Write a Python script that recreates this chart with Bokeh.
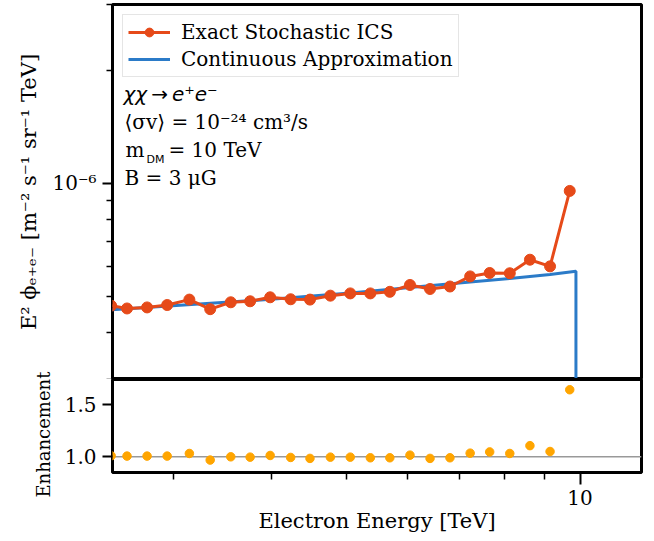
from bokeh.plotting import figure
from bokeh.layouts import column
from bokeh.models import (Range1d, FixedTicker, CustomJSTickFormatter, Label,
                          Legend, LegendItem, Span)
from bokeh.embed import file_html
from bokeh.resources import INLINE

# ---------------- data ----------------
energy = [2.49, 2.61, 2.77, 2.94, 3.14, 3.34, 3.55, 3.76, 3.99, 4.24, 4.49, 4.77,
          5.06, 5.37, 5.69, 6.04, 6.41, 6.80, 7.22, 7.65, 8.12, 8.62, 9.15, 9.70]
exact_flux = [4.72e-7, 4.64e-7, 4.67e-7, 4.74e-7, 4.90e-7, 4.62e-7, 4.82e-7, 4.85e-7,
              4.97e-7, 4.91e-7, 4.90e-7, 5.02e-7, 5.09e-7, 5.09e-7, 5.14e-7, 5.36e-7,
              5.23e-7, 5.31e-7, 5.65e-7, 5.77e-7, 5.76e-7, 6.26e-7, 6.01e-7, 9.55e-7]
enhancement = [1.01, 1.007, 1.007, 1.007, 1.032, 0.969, 1.0, 0.997, 1.013, 0.994,
               0.985, 0.997, 0.997, 0.991, 0.991, 1.016, 0.985, 0.991, 1.035, 1.047,
               1.032, 1.107, 1.051, 1.642]
cont_energy = [2.49, 4.0, 5.06, 6.04, 7.22, 8.12, 9.15, 9.88, 9.88]
cont_flux = [4.60e-7, 4.91e-7, 5.10e-7, 5.28e-7, 5.46e-7, 5.58e-7, 5.72e-7, 5.83e-7, 1e-9]

x_limits = (2.5, 12.0)
y_limits_top = (3e-7, 3e-6)
y_limits_bottom = (0.85, 1.74)

x_major = [10]
x_major_labels = ["10"]
x_minor = [3, 4, 5, 6, 7, 8, 9]
y_top_major = [1e-6]
y_top_major_labels = ["10\u207b\u2076"]
y_top_minor = [3e-7, 4e-7, 5e-7, 6e-7, 7e-7, 8e-7, 9e-7, 2e-6, 3e-6]
y_bot_major = [1.0, 1.5]
y_bot_major_labels = ["1.0", "1.5"]

x_title = "Electron Energy [TeV]"
y_title_top = "E\u00b2 \u03d5\u2091\u208a\u2091\u208b [m\u207b\u00b2 s\u207b\u00b9 sr\u207b\u00b9 TeV]"
y_title_bottom = "Enhancement"
legend_labels = ["Exact Stochastic ICS", "Continuous Approximation"]
text_lines = ["\u03c7\u03c7\u2009\u2192\u2009e\u207ae\u207b",
              "\u27e8\u03c3v\u27e9 = 10\u207b\u00b2\u2074 cm\u00b3/s",
              "m", "DM", "= 10 TeV",
              "B = 3 \u03bcG"]

RED = "#e64a19"
BLUE = "#2b7bc8"
ORANGE = "#ffa500"
SERIF = "DejaVu Serif"
FS = "20px"

FMT_CODE = """
for (let i = 0; i < vals.length; i++) {
  if (Math.abs(tick / vals[i] - 1) < 1e-6) { return labs[i]; }
}
return '';
"""


def style_axis(ax, major_out=10, minor_out=6):
    ax.axis_line_color = None
    ax.major_tick_in = 0
    ax.minor_tick_in = 0
    ax.major_tick_out = major_out
    ax.minor_tick_out = minor_out
    ax.major_tick_line_width = 2
    ax.minor_tick_line_width = 1.5
    ax.major_tick_line_color = "black"
    ax.minor_tick_line_color = "black"
    ax.major_label_text_font = SERIF
    ax.major_label_text_font_size = FS
    ax.major_label_text_color = "black"
    ax.major_label_standoff = 6
    ax.axis_label_text_font = SERIF
    ax.axis_label_text_font_size = "21px"
    ax.axis_label_text_font_style = "normal"
    ax.axis_label_text_color = "black"


# ---------------- top panel ----------------
p1 = figure(frame_width=529, frame_height=375, x_axis_type="log", y_axis_type="log",
            x_range=Range1d(*x_limits), y_range=Range1d(*y_limits_top),
            x_axis_location=None, output_backend="svg", toolbar_location=None,
            min_border_left=112, min_border_right=13, min_border_top=4,
            min_border_bottom=0)
p1.outline_line_color = "black"
p1.outline_line_width = 3
p1.xgrid.grid_line_color = None
p1.ygrid.grid_line_color = None

ya = p1.yaxis[0]
ya.ticker = FixedTicker(ticks=y_top_major, minor_ticks=y_top_minor)
ya.formatter = CustomJSTickFormatter(args=dict(vals=y_top_major, labs=y_top_major_labels),
                                     code=FMT_CODE)
style_axis(ya)
ya.axis_label = y_title_top
ya.axis_label_standoff = 8

r_cont = p1.line(cont_energy, cont_flux, line_color=BLUE, line_width=3)
r_exact_line = p1.line(energy, exact_flux, line_color=RED, line_width=3)
r_exact_pts = p1.scatter(energy, exact_flux, size=11, fill_color=RED, line_color=RED)

legend = Legend(items=[LegendItem(label=legend_labels[0], renderers=[r_exact_line, r_exact_pts]),
                       LegendItem(label=legend_labels[1], renderers=[r_cont])],
                location="top_left", margin=10, padding=5, spacing=3,
                glyph_width=42, glyph_height=22, label_height=22, label_standoff=11,
                label_text_font=SERIF, label_text_font_size=FS,
                label_text_color="black",
                border_line_color="#cccccc", border_line_width=1,
                background_fill_alpha=0.8)
p1.add_layout(legend, "center")

p1.add_layout(Label(x=11, y=274, x_units="screen", y_units="screen", text=text_lines[0],
                    text_font="DejaVu Sans", text_font_style="italic",
                    text_font_size=FS, text_color="black"))
p1.add_layout(Label(x=12, y=246, x_units="screen", y_units="screen", text=text_lines[1],
                    text_font=SERIF, text_font_size=FS, text_color="black"))
p1.add_layout(Label(x=13, y=218, x_units="screen", y_units="screen", text=text_lines[2],
                    text_font=SERIF, text_font_size=FS, text_color="black"))
p1.add_layout(Label(x=34, y=214, x_units="screen", y_units="screen", text=text_lines[3],
                    text_font="DejaVu Sans", text_font_size="11px", text_color="black"))
p1.add_layout(Label(x=56, y=218, x_units="screen", y_units="screen", text=text_lines[4],
                    text_font=SERIF, text_font_size=FS, text_color="black"))
p1.add_layout(Label(x=12, y=190, x_units="screen", y_units="screen", text=text_lines[5],
                    text_font=SERIF, text_font_size=FS, text_color="black"))

# ---------------- bottom panel ----------------
OVERLAP = 40
p2 = figure(frame_width=529, frame_height=93, x_axis_type="log",
            x_range=p1.x_range, y_range=Range1d(*y_limits_bottom),
            output_backend="svg", toolbar_location=None,
            min_border_left=112, min_border_right=13, min_border_top=OVERLAP,
            min_border_bottom=69)
p2.margin = (-OVERLAP, 0, 0, 0)
p2.border_fill_alpha = 0
p2.outline_line_color = "black"
p2.outline_line_width = 3
p2.xgrid.grid_line_color = None
p2.ygrid.grid_line_color = None

xa = p2.xaxis[0]
xa.ticker = FixedTicker(ticks=x_major, minor_ticks=x_minor)
xa.formatter = CustomJSTickFormatter(args=dict(vals=x_major, labs=x_major_labels), code=FMT_CODE)
style_axis(xa, major_out=12, minor_out=7)
xa.major_label_standoff = 5
xa.axis_label = x_title
xa.axis_label_standoff = 1

yb = p2.yaxis[0]
yb.ticker = FixedTicker(ticks=y_bot_major, minor_ticks=[])
yb.formatter = CustomJSTickFormatter(args=dict(vals=y_bot_major, labs=y_bot_major_labels), code=FMT_CODE)
style_axis(yb, major_out=10, minor_out=0)
# trailing no-break spaces nudge the visible title a little below the panel centre
yb.axis_label = y_title_bottom + "\u00a0\u00a0\u00a0"
yb.axis_label_text_font_size = "18px"
yb.axis_label_standoff = 8

p2.add_layout(Span(location=1.0, dimension="width", line_color="#999999",
                   line_width=1.5, level="underlay"))
p2.scatter(energy, enhancement, size=8.5, fill_color=ORANGE, line_color=ORANGE)

layout = column(p1, p2, spacing=0)
open("out.html", "w").write(file_html(layout, INLINE))
